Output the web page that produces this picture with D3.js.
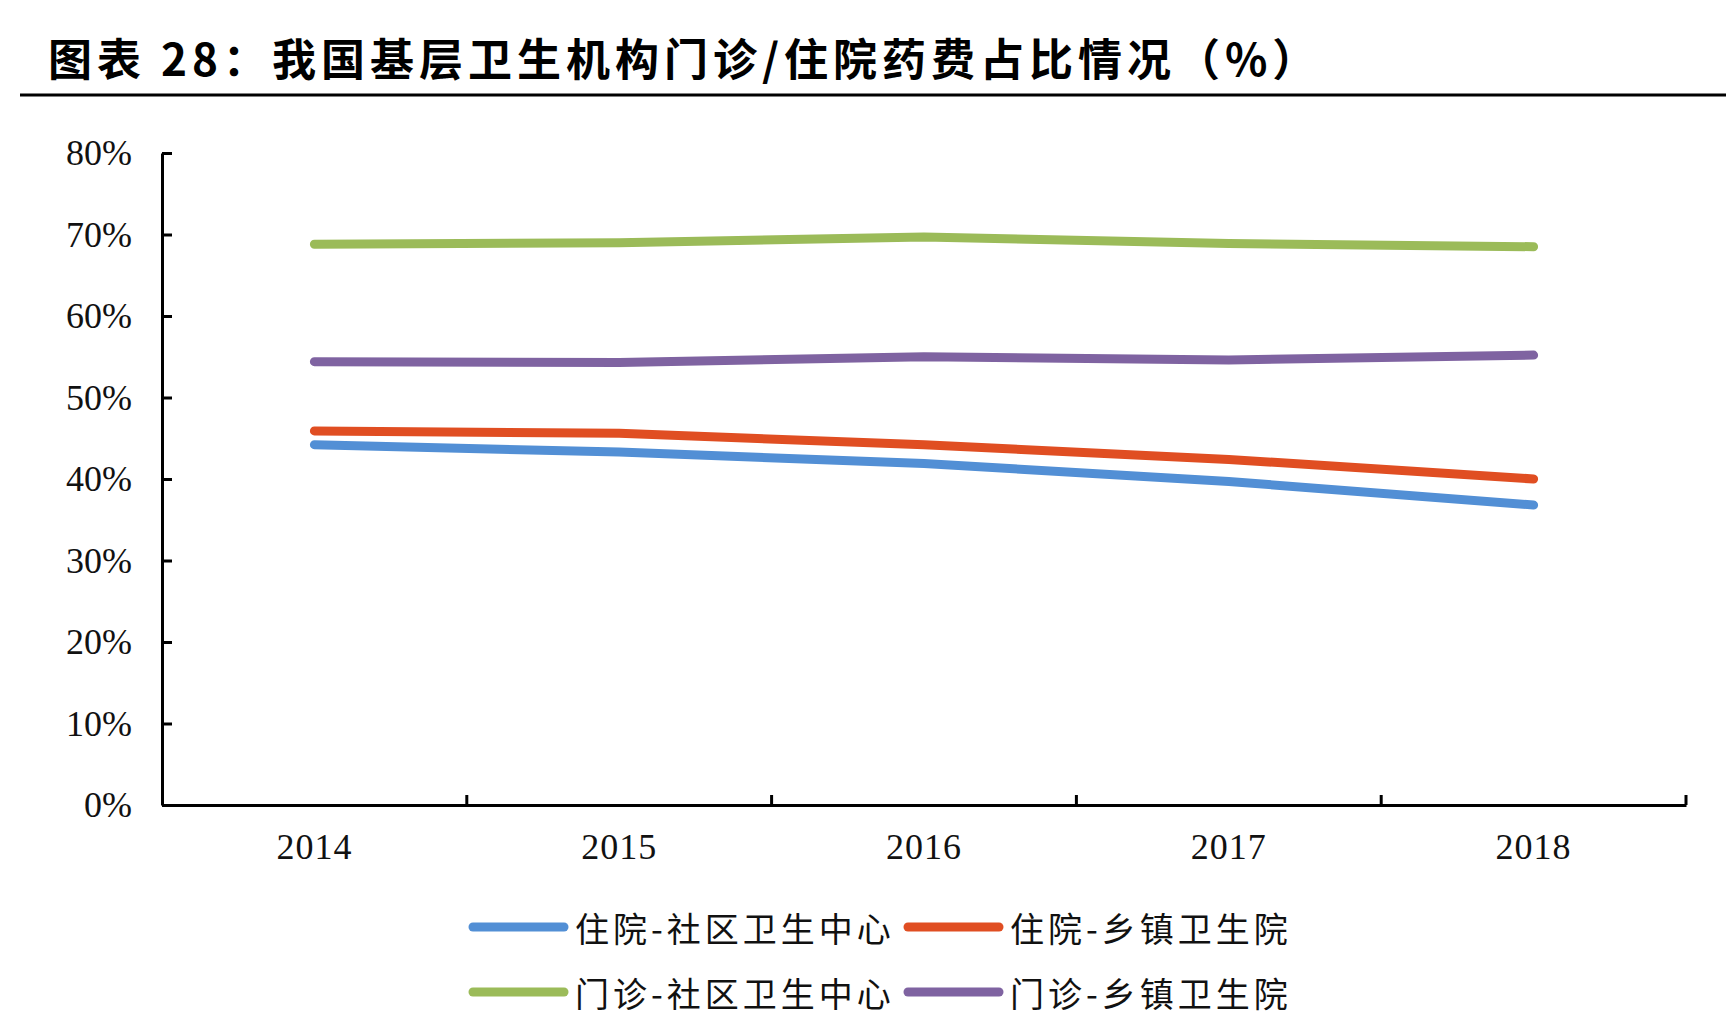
<!DOCTYPE html>
<html>
<head>
    <meta charset="utf-8">
    <title>我国基层卫生机构门诊/住院药费占比情况</title>
    <script src="https://d3js.org/d3.v7.min.js"></script>
    <style>
        body {
            margin: 0;
            background: #fff;
        }
        .title {
            font-family: "Noto Sans CJK SC", sans-serif;
            font-weight: 700;
            font-size: 44px;
        }
        .axis path, .axis line {
            stroke: #000;
            stroke-width: 3px;
        }
        .axis text {
            font-family: "Liberation Serif", "Times New Roman", serif;
            font-size: 36px;
            fill: #111;
        }
        .legend text {
            font-family: "Noto Sans CJK SC", sans-serif;
            font-size: 34px;
            fill: #111;
        }
        .series {
            fill: none;
            stroke-width: 9px;
            stroke-linecap: round;
            stroke-linejoin: round;
        }
    </style>
</head>
<body>
    <div id="chart"></div>

    <script>
        // 数据（%）
        const years = ["2014", "2015", "2016", "2017", "2018"];
        const inpatientCommunity = [44.2, 43.3, 41.9, 39.7, 36.8];   // 住院-社区卫生中心
        const inpatientTownship = [45.9, 45.6, 44.2, 42.4, 40.0];    // 住院-乡镇卫生院
        const outpatientCommunity = [68.8, 69.0, 69.7, 68.9, 68.5];  // 门诊-社区卫生中心
        const outpatientTownship = [54.4, 54.3, 55.0, 54.6, 55.2];   // 门诊-乡镇卫生院
        const seriesNames = ["住院-社区卫生中心", "住院-乡镇卫生院", "门诊-社区卫生中心", "门诊-乡镇卫生院"];
        const seriesColors = ["#528fd5", "#e04e22", "#9bbb59", "#7f63a1"];
        const yTicks = [0, 10, 20, 30, 40, 50, 60, 70, 80];

        const width = 1726, height = 1030;
        const margin = {top: 153, right: 40, bottom: 225, left: 162};

        var svg = d3.select("#chart").append("svg")
            .attr("width", width)
            .attr("height", height);

        // 标题
        svg.append("text")
            .attr("class", "title")
            .attr("x", 48)
            .attr("y", 57)
            .attr("dominant-baseline", "central")
            .attr("letter-spacing", "5px")
            .text("图表 28：我国基层卫生机构门诊/住院药费占比情况（%）");

        svg.append("line")
            .attr("x1", 20)
            .attr("x2", width)
            .attr("y1", 95)
            .attr("y2", 95)
            .attr("stroke", "#000")
            .attr("stroke-width", 3);

        var xScale = d3.scaleBand()
            .domain(years)
            .range([margin.left, width - margin.right]);

        var yScale = d3.scaleLinear()
            .domain([0, 80])
            .range([height - margin.bottom, margin.top]);

        // y 轴
        svg.append("g")
            .attr("class", "axis")
            .attr("transform", "translate(" + margin.left + ",0)")
            .call(d3.axisLeft(yScale)
                .tickValues(yTicks)
                .tickSizeInner(-10)
                .tickSizeOuter(0)
                .tickPadding(30)
                .tickFormat(d => d + "%"));

        // x 轴
        var xAxis = svg.append("g")
            .attr("class", "axis")
            .attr("transform", "translate(0," + yScale(0) + ")")
            .call(d3.axisBottom(xScale)
                .tickSize(0)
                .tickPadding(28));

        xAxis.selectAll("text").attr("letter-spacing", "1px");

        // 类别分隔刻度
        xAxis.selectAll(".sep")
            .data(years)
            .enter().append("line")
            .attr("class", "sep")
            .attr("x1", d => xScale(d) + xScale.bandwidth())
            .attr("x2", d => xScale(d) + xScale.bandwidth())
            .attr("y1", 0)
            .attr("y2", -10);

        // 折线
        const allSeries = [inpatientCommunity, inpatientTownship, outpatientCommunity, outpatientTownship];

        var line = d3.line()
            .x((d, i) => xScale(years[i]) + xScale.bandwidth() / 2)
            .y(d => yScale(d));

        svg.selectAll(".series")
            .data(allSeries)
            .enter().append("path")
            .attr("class", "series")
            .attr("stroke", (d, i) => seriesColors[i])
            .attr("d", line);

        // 图例
        var legend = svg.append("g").attr("class", "legend");
        var item = legend.selectAll(".item")
            .data(seriesNames)
            .enter().append("g")
            .attr("transform", (d, i) => "translate(" + (468 + (i % 2) * 435) + "," + (927 + Math.floor(i / 2) * 65) + ")");

        item.append("line")
            .attr("x1", 5)
            .attr("x2", 96)
            .attr("stroke", (d, i) => seriesColors[i])
            .attr("stroke-width", 9)
            .attr("stroke-linecap", "round");

        item.append("text")
            .attr("x", 107)
            .attr("dominant-baseline", "central")
            .attr("letter-spacing", "4px")
            .text(d => d);
    </script>
</body>
</html>
